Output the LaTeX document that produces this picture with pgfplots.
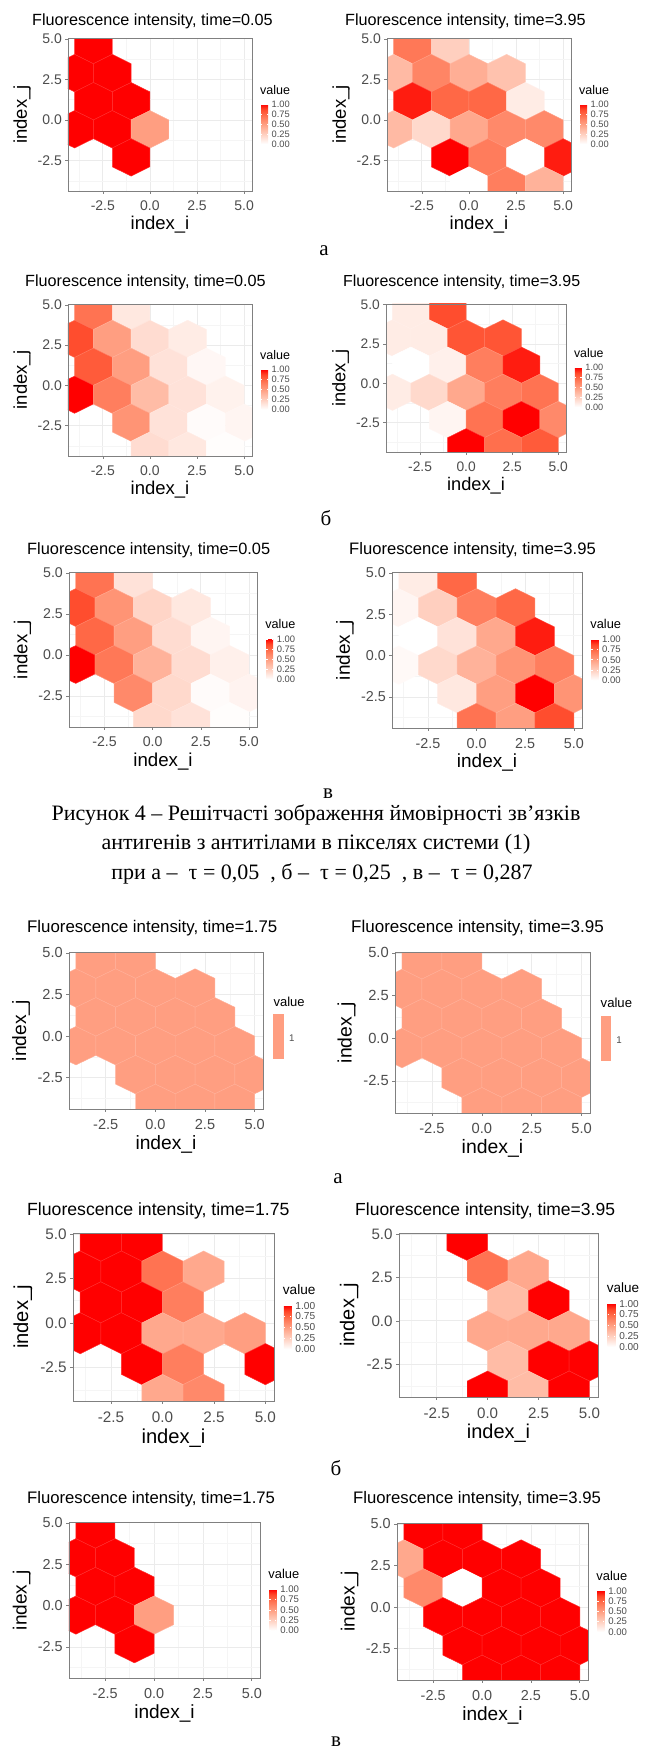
\documentclass[border=0pt]{standalone}
\usepackage{fontspec}
\setmainfont{Liberation Serif}
\newfontfamily\arial{Liberation Sans}
\usepackage{pgfplots}
\usepackage{pgfplotstable}
\pgfplotsset{compat=1.18}

\definecolor{gtxt}{HTML}{4D4D4D}
\definecolor{gborder}{HTML}{808080}
\definecolor{ggrid}{HTML}{EBEBEB}
\definecolor{ggridm}{HTML}{F5F5F5}
\definecolor{salmon}{RGB}{255,158,129}

\pgfplotsset{
  colormap={whred}{rgb255=(255,255,255) rgb255=(255,231,223) rgb255=(255,207,191) rgb255=(255,183,160) rgb255=(255,158,129) rgb255=(255,132,100) rgb255=(255,104,70) rgb255=(255,70,40) rgb255=(255,0,0)},
}

\pgfdeclareplotmark{hex}{%
  \pgfpathmoveto{\pgfpoint{0pt}{\hexR pt}}%
  \pgfpathlineto{\pgfpoint{\hexW pt}{\hexr pt}}%
  \pgfpathlineto{\pgfpoint{\hexW pt}{-\hexr pt}}%
  \pgfpathlineto{\pgfpoint{0pt}{-\hexR pt}}%
  \pgfpathlineto{\pgfpoint{-\hexW pt}{-\hexr pt}}%
  \pgfpathlineto{\pgfpoint{-\hexW pt}{\hexr pt}}%
  \pgfpathclose
  \pgfusepathqfillstroke}

\newcommand{\setpanel}[5]{%
  \pgfmathsetmacro\pX{#1}%
  \pgfmathsetmacro\pT{#2}%
  \pgfmathsetmacro\pR{#3}%
  \pgfmathsetmacro\pB{#4}%
  \pgfmathsetmacro\psc{#5}%
  \pgfmathsetmacro\pW{#3-#1}%
  \pgfmathsetmacro\pH{#4-#2}%
  \pgfmathsetmacro\pC{(#2+#4)/2}%
  \pgfmathsetmacro\hexW{\pW/9.77}%
  \pgfmathsetmacro\hexR{1.1547*\pH/9.43}%
  \pgfmathsetmacro\hexr{0.57735*\pH/9.43}%
  \pgfmathsetmacro\fTk{14*\psc}%
  \pgfmathsetmacro\fLab{18.5*\psc}%
  \pgfmathsetmacro\fTit{16.2*\psc}%
  \pgfmathsetmacro\fVal{12.5*\psc}%
  \pgfmathsetmacro\fLeg{9.3*\psc}%
  \pgfmathsetmacro\xtS{-7*\psc}%
  \pgfmathsetmacro\ytS{-3.2*\psc}%
  \pgfmathsetmacro\xlY{-34*\psc/\pH}%
  \pgfmathsetmacro\ylX{-46*\psc/\pW}%
  \pgfmathsetmacro\cbXa{#3+9*\psc}%
  \pgfmathsetmacro\cbXs{\cbXa-8.535}%
  \pgfmathsetmacro\cbYa{-\pC+10.5*\psc}%
  \pgfmathsetmacro\cbW{7*\psc}%
  \pgfmathsetmacro\cbH{40*\psc}%
  \pgfmathsetmacro\cbL{10*\psc}%
  \pgfmathsetmacro\cbT{1.4*\psc}%
}

\pgfplotsset{
  hexaxis/.style={
    at={(\pX pt,-\pB pt)}, anchor=south west,
    width=\pW pt, height=\pH pt, scale only axis,
    xmin=-4.35, xmax=5.42, ymin=-4.38, ymax=5.05,
    xtick={-2.5,0,2.5,5}, xticklabels={-2.5,0.0,2.5,5.0},
    ytick={-2.5,0,2.5,5}, yticklabels={-2.5,0.0,2.5,5.0},
    minor xtick={-3.75,-1.25,1.25,3.75}, minor ytick={-3.75,-1.25,1.25,3.75},
    grid=both,
    major grid style={draw=ggrid, line width=0.7pt},
    minor grid style={draw=ggridm, line width=0.45pt},
    tick pos=left, tick align=outside,
    major tick length=2.75pt, minor tick length=0pt,
    major tick style={draw=gborder, line width=0.6pt},
    axis line style={draw=gborder, line width=0.7pt},
    xticklabel style={font=\arial\fontsize{\fTk}{\fTk}\selectfont, text=gtxt, anchor=north, inner sep=0pt, yshift=\xtS pt},
    yticklabel style={font=\arial\fontsize{\fTk}{\fTk}\selectfont, text=gtxt, anchor=east, inner sep=0pt, xshift=\ytS pt},
    xlabel={index\_i}, ylabel={index\_j},
    xlabel style={at={(axis description cs:0.5,\xlY)}, anchor=center, inner sep=0pt, font=\arial\fontsize{\fLab}{\fLab}\selectfont},
    ylabel style={at={(axis description cs:\ylX,0.5)}, anchor=center, inner sep=0pt, font=\arial\fontsize{\fLab}{\fLab}\selectfont},
    clip marker paths=true,
    colormap name=whred,
    point meta min=0, point meta max=1,
  },
  hexplot/.style={scatter, only marks, mark=hex, point meta=explicit,
    scatter/use mapped color={draw=mapped color!82!white, fill=mapped color}, line width=0.45pt},
}

\newcommand{\pframe}{\draw[gborder, line width=0.7pt] (\pX,-\pB) rectangle (\pR,-\pT);}
\newcommand{\ptitle}[3]{\node[anchor=base west, inner sep=0pt, font=\arial\fontsize{\fTit}{\fTit}\selectfont] at (#1,-#2) {Fluorescence intensity, time=#3};}
\newcommand{\vtitle}{\node[anchor=base west, inner sep=0pt, font=\arial\fontsize{\fVal}{\fVal}\selectfont] at ({\pR+8*\psc},{-\pC+20.5*\psc}) {value};}
\newcommand{\vone}{%
  \node[anchor=base west, inner sep=0pt, font=\arial\fontsize{\fVal}{\fVal}\selectfont] at ({\pR+10*\psc},{-\pC+23.5*\psc}) {value};
  \fill[salmon] ({\pR+10*\psc},{-\pC+15.5*\psc}) rectangle ({\pR+20*\psc},{-\pC-27.5*\psc});
  \node[anchor=west, inner sep=0pt, font=\arial\fontsize{\fLeg}{\fLeg}\selectfont, text=gtxt] at ({\pR+25*\psc},{-\pC-7.5*\psc}) {1};}
\newcommand{\cbar}{%
  \pgfplotscolorbardrawstandalone[
    colormap name=whred, point meta min=0, point meta max=1,
    colorbar style={
      at={(\cbXs pt,\cbYa pt)}, anchor=north west,
      width=\cbW pt, height=\cbH pt, scale only axis,
      ytick=\empty, xtick=\empty,
      axis line style={draw=none},
    }]%
  \foreach \t/\l in {0/0.00,0.25/0.25,0.5/0.50,0.75/0.75,1/1.00}{%
    \draw[white, line width=0.6pt] ({\cbXa},{\cbYa-\cbH+\t*\cbH}) -- ++(\cbT,0);
    \draw[white, line width=0.6pt] ({\cbXa+\cbW},{\cbYa-\cbH+\t*\cbH}) -- ++(-\cbT,0);
    \node[anchor=west, inner sep=0pt, font=\arial\fontsize{\fLeg}{\fLeg}\selectfont, text=gtxt] at ({\cbXa+\cbW+\cbL-6.5*\psc},{\cbYa-\cbH+\t*\cbH}) {\l};
  }%
}

\begin{document}

\pgfplotstableread{
x y v
-3 4.619 1
-4 2.887 1
-2 2.887 1
-3 1.155 1
-1 1.155 1
-4 -0.577 1
-2 -0.577 1
0 -0.577 0.5
-1 -2.309 1
}\tAone

\pgfplotstableread{
x y v
-3 4.619 0.68
-1 4.619 0.25
-4 2.887 0.36
-2 2.887 0.62
0 2.887 0.42
2 2.887 0.32
-3 1.155 0.95
-1 1.155 0.75
1 1.155 0.75
3 1.155 0.1
-4 -0.577 0.36
-2 -0.577 0.2
0 -0.577 0.45
2 -0.577 0.6
4 -0.577 0.6
-1 -2.309 1.0
1 -2.309 0.66
3 -2.309 0.0
5 -2.309 0.95
0 -4.041 0.0
2 -4.041 0.65
4 -4.041 0.4
}\tAtwo

\pgfplotstableread{
x y v
-3 4.619 0.7
-1 4.619 0.12
-4 2.887 0.85
-2 2.887 0.5
0 2.887 0.18
2 2.887 0.1
-3 1.155 0.8
-1 1.155 0.5
1 1.155 0.15
3 1.155 0.04
-4 -0.577 1.0
-2 -0.577 0.65
0 -0.577 0.35
2 -0.577 0.15
4 -0.577 0.07
-1 -2.309 0.55
1 -2.309 0.15
3 -2.309 0.02
5 -2.309 0.05
0 -4.041 0.18
2 -4.041 0.12
4 -4.041 0.01
}\tBone

\pgfplotstableread{
x y v
-3 4.619 0.1
-1 4.619 0.85
-4 2.887 0.1
-2 2.887 0.1
0 2.887 0.82
2 2.887 0.82
-3 1.155 0.0
-1 1.155 0.08
1 1.155 0.65
3 1.155 0.95
-4 -0.577 0.1
-2 -0.577 0.2
0 -0.577 0.45
2 -0.577 0.65
4 -0.577 0.7
-1 -2.309 0.05
1 -2.309 0.7
3 -2.309 1.0
5 -2.309 0.6
0 -4.041 1.0
2 -4.041 0.72
4 -4.041 0.8
}\tBtwo

\pgfplotstableread{
x y v
-3 4.619 0.7
-1 4.619 0.15
-4 2.887 0.85
-2 2.887 0.55
0 2.887 0.22
2 2.887 0.12
-3 1.155 0.75
-1 1.155 0.5
1 1.155 0.18
3 1.155 0.05
-4 -0.577 1.0
-2 -0.577 0.68
0 -0.577 0.4
2 -0.577 0.18
4 -0.577 0.08
-1 -2.309 0.6
1 -2.309 0.2
3 -2.309 0.02
5 -2.309 0.06
0 -4.041 0.2
2 -4.041 0.15
4 -4.041 0.01
}\tCone

\pgfplotstableread{
x y v
-3 4.619 0.1
-1 4.619 0.75
-4 2.887 0.05
-2 2.887 0.25
0 2.887 0.65
2 2.887 0.75
-3 1.155 0.0
-1 1.155 0.15
1 1.155 0.45
3 1.155 0.95
-4 -0.577 0.03
-2 -0.577 0.2
0 -0.577 0.4
2 -0.577 0.55
4 -0.577 0.65
-1 -2.309 0.12
1 -2.309 0.5
3 -2.309 1.0
5 -2.309 0.55
0 -4.041 0.7
2 -4.041 0.5
4 -4.041 0.85
}\tCtwo

\pgfplotstableread{
x y v
-3 4.619 1
-1 4.619 1
-4 2.887 1
-2 2.887 1
0 2.887 1
2 2.887 1
-3 1.155 1
-1 1.155 1
1 1.155 1
3 1.155 1
-4 -0.577 1
-2 -0.577 1
0 -0.577 1
2 -0.577 1
4 -0.577 1
-1 -2.309 1
1 -2.309 1
3 -2.309 1
5 -2.309 1
0 -4.041 1
2 -4.041 1
4 -4.041 1
}\tD

\pgfplotstableread{
x y v
-3 4.619 1
-1 4.619 1
-4 2.887 1
-2 2.887 1
0 2.887 0.7
2 2.887 0.45
-3 1.155 1
-1 1.155 1
1 1.155 0.65
-4 -0.577 1
-2 -0.577 1
0 -0.577 0.45
2 -0.577 0.45
4 -0.577 0.5
-1 -2.309 1
1 -2.309 0.65
5 -2.309 1
0 -4.041 0.45
2 -4.041 0.6
}\tEone

\pgfplotstableread{
x y v
-1 4.619 1
0 2.887 0.7
2 2.887 0.45
1 1.155 0.35
3 1.155 1
0 -0.577 0.45
2 -0.577 0.45
4 -0.577 0.45
1 -2.309 0.35
3 -2.309 1
5 -2.309 1
0 -4.041 1
2 -4.041 0.35
4 -4.041 1
}\tEtwo

\pgfplotstableread{
x y v
-3 4.619 1
-1 4.619 1
-4 2.887 0.45
-2 2.887 1
0 2.887 1
2 2.887 1
-3 1.155 0.6
-1 1.155 0.0
1 1.155 1
3 1.155 1
-2 -0.577 1
0 -0.577 1
2 -0.577 1
4 -0.577 1
-1 -2.309 1
1 -2.309 1
3 -2.309 1
5 -2.309 1
0 -4.041 1
2 -4.041 1
4 -4.041 1
}\tFtwo

\begin{tikzpicture}[x=1pt,y=1pt]
\fill[white] (0,0) rectangle (645,-1751);
\useasboundingbox (0,0) rectangle (645,-1751);

% ---------- Row A ----------
\setpanel{68}{38}{252}{191}{1.0}
\begin{axis}[hexaxis]
\addplot[hexplot] table[x=x,y=y,meta=v]{\tAone};
\end{axis}
\pframe \ptitle{32}{25}{0.05} \vtitle \cbar

\setpanel{387}{38}{571}{191}{1.0}
\begin{axis}[hexaxis]
\addplot[hexplot] table[x=x,y=y,meta=v]{\tAtwo};
\end{axis}
\pframe \ptitle{345}{25}{3.95} \vtitle \cbar

\node[anchor=base, font=\fontsize{21}{25}\selectfont] at (324,-255) {а};

% ---------- Row B ----------
\setpanel{68}{304}{252}{456}{1.0}
\begin{axis}[hexaxis]
\addplot[hexplot] table[x=x,y=y,meta=v]{\tBone};
\end{axis}
\pframe \ptitle{25}{286}{0.05} \vtitle \cbar

\setpanel{386}{304}{566}{452}{0.985}
\begin{axis}[hexaxis]
\addplot[hexplot] table[x=x,y=y,meta=v]{\tBtwo};
\end{axis}
\pframe \ptitle{343}{286}{3.95} \vtitle \cbar

\node[anchor=base, font=\fontsize{21}{25}\selectfont] at (326,-525) {б};

% ---------- Row C ----------
\setpanel{69}{572}{257}{727}{1.01}
\begin{axis}[hexaxis]
\addplot[hexplot] table[x=x,y=y,meta=v]{\tCone};
\end{axis}
\pframe \ptitle{27}{554}{0.05} \vtitle \cbar

\setpanel{392}{572}{582}{728}{1.025}
\begin{axis}[hexaxis]
\addplot[hexplot] table[x=x,y=y,meta=v]{\tCtwo};
\end{axis}
\pframe \ptitle{349}{554}{3.95} \vtitle \cbar

\node[anchor=base, font=\fontsize{21}{25}\selectfont] at (328,-798) {в};

\node[anchor=base, font=\fontsize{22}{26}\selectfont] at (316,-820) {Рисунок 4 – Решітчасті зображення ймовірності зв’язків};
\node[anchor=base, font=\fontsize{22}{26}\selectfont] at (316,-849.5) {антигенів з антитілами в пікселях системи (1)};
\node[anchor=base, font=\fontsize{22}{26}\selectfont] at (322,-879) {при а –\enspace τ = 0,05\enspace, б –\enspace τ = 0,25\enspace, в –\enspace τ = 0,287};

% ---------- Row D ----------
\setpanel{69}{952}{263}{1109}{1.04}
\begin{axis}[hexaxis, point meta min=0, point meta max=2]
\addplot[hexplot] table[x=x,y=y,meta=v]{\tD};
\end{axis}
\pframe \ptitle{27}{932}{1.75} \vone

\setpanel{395}{952}{590}{1113}{1.05}
\begin{axis}[hexaxis, point meta min=0, point meta max=2]
\addplot[hexplot] table[x=x,y=y,meta=v]{\tD};
\end{axis}
\pframe \ptitle{351}{932}{3.95} \vone

\node[anchor=base, font=\fontsize{21}{25}\selectfont] at (338,-1183) {а};

% ---------- Row E ----------
\setpanel{73}{1233}{274}{1401}{1.09}
\begin{axis}[hexaxis]
\addplot[hexplot] table[x=x,y=y,meta=v]{\tEone};
\end{axis}
\pframe \ptitle{27}{1215}{1.75} \vtitle \cbar

\setpanel{399}{1233}{598}{1397}{1.08}
\begin{axis}[hexaxis]
\addplot[hexplot] table[x=x,y=y,meta=v]{\tEtwo};
\end{axis}
\pframe \ptitle{355}{1215}{3.95} \vtitle \cbar

\node[anchor=base, font=\fontsize{21}{25}\selectfont] at (336,-1475) {б};

% ---------- Row F ----------
\setpanel{69}{1522}{260}{1678}{1.03}
\begin{axis}[hexaxis]
\addplot[hexplot] table[x=x,y=y,meta=v]{\tAone};
\end{axis}
\pframe \ptitle{27}{1503}{1.75} \vtitle \cbar

\setpanel{397}{1523}{588}{1680}{1.03}
\begin{axis}[hexaxis]
\addplot[hexplot] table[x=x,y=y,meta=v]{\tFtwo};
\end{axis}
\pframe \ptitle{353}{1503}{3.95} \vtitle \cbar

\node[anchor=base, font=\fontsize{21}{25}\selectfont] at (336,-1746) {в};

\end{tikzpicture}
\end{document}
